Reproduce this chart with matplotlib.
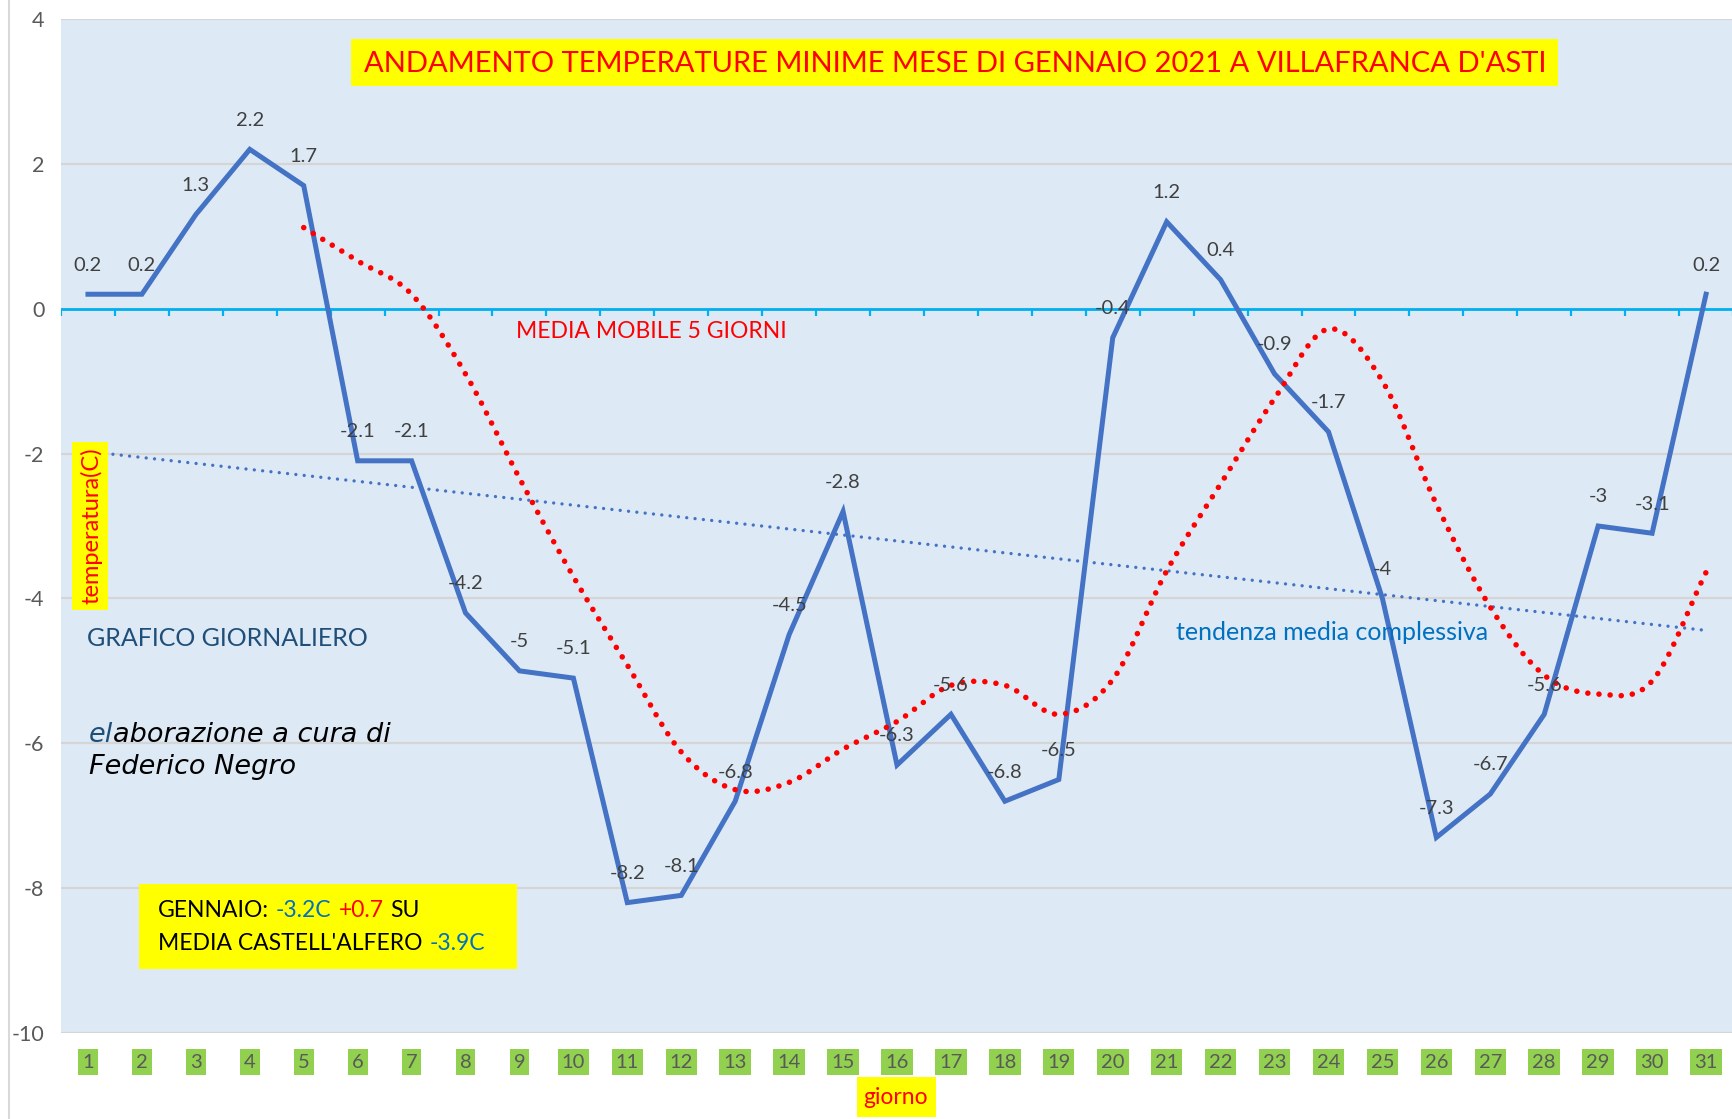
import numpy as np
import matplotlib
matplotlib.use('Agg')
import matplotlib.pyplot as plt
import matplotlib.transforms as mtransforms
from matplotlib.patches import Rectangle
from matplotlib.offsetbox import TextArea, HPacker, VPacker, AnnotationBbox

plt.rcParams['font.family'] = ['Lato', 'DejaVu Sans']

# ---------------- data ----------------
days = list(range(1, 32))
day_labels = [str(d) for d in days]
temps = [0.2, 0.2, 1.3, 2.2, 1.7, -2.1, -2.1, -4.2, -5.0, -5.1,
         -8.2, -8.1, -6.8, -4.5, -2.8, -6.3, -5.6, -6.8, -6.5, -0.4,
         1.2, 0.4, -0.9, -1.7, -4.0, -7.3, -6.7, -5.6, -3.0, -3.1, 0.2]
temp_labels = ['0.2', '0.2', '1.3', '2.2', '1.7', '-2.1', '-2.1', '-4.2', '-5', '-5.1',
               '-8.2', '-8.1', '-6.8', '-4.5', '-2.8', '-6.3', '-5.6', '-6.8', '-6.5', '-0.4',
               '1.2', '0.4', '-0.9', '-1.7', '-4', '-7.3', '-6.7', '-5.6', '-3', '-3.1', '0.2']
ma_days = list(range(5, 32))
ma5 = [1.12, 0.66, 0.2, -0.9, -2.34, -3.7, -4.92, -6.12, -6.64, -6.54,
       -6.08, -5.7, -5.2, -5.2, -5.6, -5.12, -3.62, -2.42, -1.24, -0.28,
       -1.0, -2.7, -4.12, -5.06, -5.32, -5.14, -3.64]
yticks = [-10, -8, -6, -4, -2, 0, 2, 4]

W, H = 1733, 1119
fig = plt.figure(figsize=(W / 100, H / 100), dpi=100)
fig.patch.set_facecolor('white')

L, T, B = 61, 19, 1033
ax = fig.add_axes([L / W, 1 - B / H, 1 - L / W, (B - T) / H])
ax.set_facecolor('#DDEAF6')
ax.set_xlim(0.5, 31.5)
ax.set_ylim(-10, 4)
for s in ax.spines.values():
    s.set_visible(False)
ax.set_yticks(yticks)
ax.set_yticklabels([str(v) for v in yticks], fontsize=15.5, color='#595959')
ax.tick_params(axis='y', length=0, pad=12)
ax.set_xticks([])
ax.grid(axis='y', color='#D5D5D5', lw=1.6)
ax.set_axisbelow(True)


def smooth(xs, ys, n=30):
    xs = np.asarray(xs, float)
    ys = np.asarray(ys, float)
    px = np.concatenate([[2 * xs[0] - xs[1]], xs, [2 * xs[-1] - xs[-2]]])
    py = np.concatenate([[2 * ys[0] - ys[1]], ys, [2 * ys[-1] - ys[-2]]])
    t = np.linspace(0, 1, n, endpoint=False)
    ox, oy = [], []
    for i in range(1, len(px) - 2):
        for arr, out in ((px, ox), (py, oy)):
            p0, p1, p2, p3 = arr[i - 1], arr[i], arr[i + 1], arr[i + 2]
            out.extend(0.5 * (2 * p1 + (-p0 + p2) * t + (2 * p0 - 5 * p1 + 4 * p2 - p3) * t ** 2
                              + (-p0 + 3 * p1 - 3 * p2 + p3) * t ** 3))
    ox.append(xs[-1])
    oy.append(ys[-1])
    return np.array(ox), np.array(oy)


# zero axis line with boundary ticks
ax.axhline(0, color='#00B0F0', lw=2, zorder=2)
ax.vlines(np.arange(0.5, 32, 1), -0.1, 0, color='#00B0F0', lw=1.6, zorder=2)

# daily line
ax.plot(days, temps, color='#4472C4', lw=3.6, solid_joinstyle='miter', zorder=4)

# moving average (smoothed)
sx, sy = smooth(ma_days, ma5)
ax.plot(sx, sy, color='#FF0000', lw=4, linestyle=(0, (0.01, 2.0)),
        dash_capstyle='round', zorder=5)

# linear trend
coef = np.polyfit(days, temps, 1)
tx = np.array([days[0], days[-1]])
ax.plot(tx, np.polyval(coef, tx), color='#4472C4', lw=2.4,
        linestyle=(0, (0.01, 2.5)), dash_capstyle='round', zorder=3)

# data labels
for d, v, lab in zip(days, temps, temp_labels):
    ax.annotate(lab, (d, v), xytext=(0, 21), textcoords='offset points',
                ha='center', va='center', fontsize=14.5, color='#404040', zorder=6)

# x category labels (green boxes)
trans = mtransforms.blended_transform_factory(ax.transData, ax.transAxes)
for d, lab in zip(days, day_labels):
    ax.text(d, -0.0286, lab, transform=trans, ha='center', va='center',
            fontsize=14.5, color='#595959', clip_on=False,
            bbox=dict(boxstyle='square,pad=0.2', fc='#92D050', ec='none'))


def frect(x0, y0, x1, y1, color):
    fig.patches.append(Rectangle((x0 / W, 1 - y1 / H), (x1 - x0) / W, (y1 - y0) / H,
                                 transform=fig.transFigure, facecolor=color,
                                 edgecolor='none', zorder=8))


def ftext(x, y, s, **kw):
    fig.text(x / W, 1 - y / H, s, zorder=9, **kw)


# chart-area left border
fig.add_artist(plt.Line2D([9 / W, 9 / W], [0, 1], color='#D9D9D9', lw=1.5,
                          transform=fig.transFigure))

# title
frect(351, 39, 1558, 86, '#FFFF00')
ftext(955, 64, "ANDAMENTO TEMPERATURE MINIME MESE DI GENNAIO 2021 A VILLAFRANCA D'ASTI",
      ha='center', va='center', fontsize=21, color='#FF0000')

# axis titles
frect(72, 442, 108, 610, '#FFFF00')
ftext(91, 526, 'temperatura(C)', rotation=90, ha='center', va='center',
      fontsize=17, color='#FF0000')
frect(857, 1077, 936, 1117, '#FFFF00')
ftext(896, 1097, 'giorno', ha='center', va='center', fontsize=16.5, color='#FF0000')

# annotations
ftext(516, 332, 'MEDIA MOBILE 5 GIORNI', ha='left', va='center', fontsize=16.5,
      color='#FF0000')
ftext(1176, 632, 'tendenza media complessiva', ha='left', va='center', fontsize=18,
      color='#0070C0')
ftext(87, 638, 'GRAFICO GIORNALIERO', ha='left', va='center', fontsize=18,
      color='#1F4E79')

# elaborazione text (two colours)
ita = dict(fontsize=19.5, style='italic', family='DejaVu Sans')
line1 = HPacker(children=[TextArea('el', textprops=dict(color='#1F4E79', **ita)),
                          TextArea('aborazione a cura di', textprops=dict(color='black', **ita))],
                sep=0, align='baseline', pad=0)
line2 = TextArea('Federico Negro', textprops=dict(color='black', **ita))
vp = VPacker(children=[line1, line2], sep=5, align='left', pad=0)
fig.add_artist(AnnotationBbox(vp, (89 / W, 1 - 751 / H), xycoords='figure fraction',
                              box_alignment=(0, 0.5), frameon=False, zorder=9))

# bottom yellow box with multicolour text
frect(139, 884, 517, 969, '#FFFF00')
bp = dict(fontsize=16.5)
l1 = HPacker(children=[TextArea('GENNAIO:', textprops=dict(color='black', **bp)),
                       TextArea('-3.2C', textprops=dict(color='#0070C0', **bp)),
                       TextArea('+0.7', textprops=dict(color='#FF0000', **bp)),
                       TextArea('SU', textprops=dict(color='black', **bp))],
             sep=5, align='baseline', pad=0)
l2 = HPacker(children=[TextArea("MEDIA CASTELL'ALFERO", textprops=dict(color='black', **bp)),
                       TextArea('-3.9C', textprops=dict(color='#0070C0', **bp))],
             sep=5, align='baseline', pad=0)
vb = VPacker(children=[l1, l2], sep=9, align='left', pad=0)
ab = AnnotationBbox(vb, (158 / W, 1 - 927 / H), xycoords='figure fraction',
                    box_alignment=(0, 0.5), frameon=False)
ab.set_zorder(10)
fig.add_artist(ab)

fig.savefig('out.png', dpi=100, facecolor='white')
